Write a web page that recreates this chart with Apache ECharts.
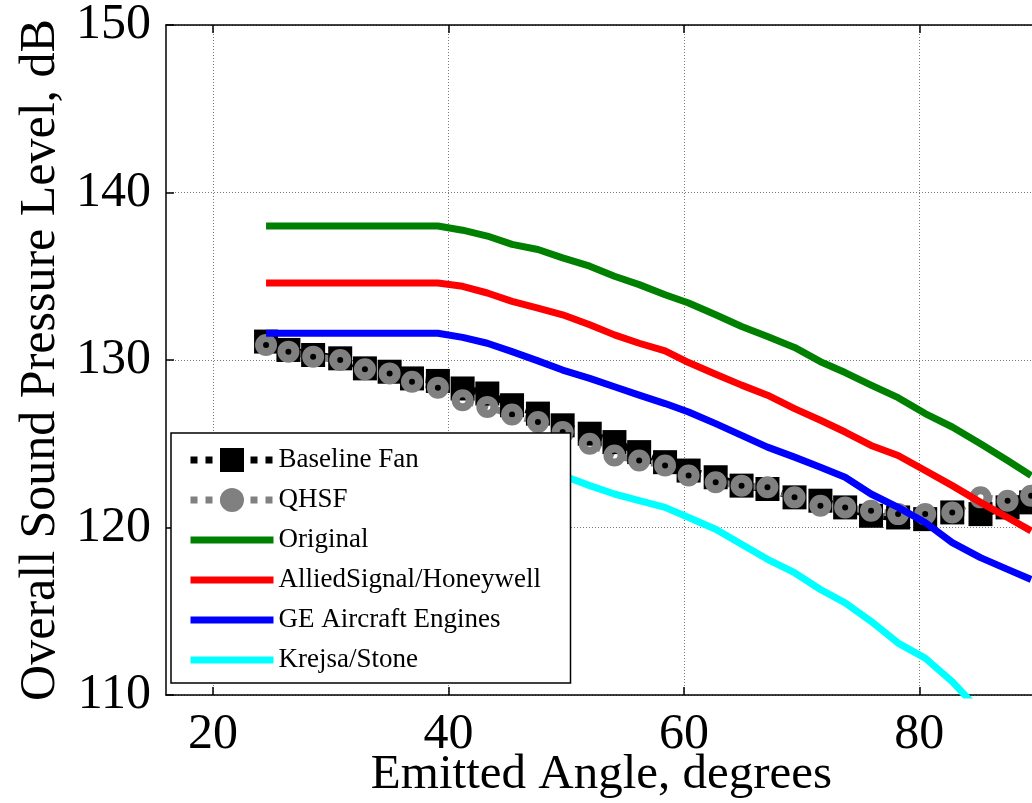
<!DOCTYPE html>
<html>
<head>
<meta charset="utf-8">
<script src="https://cdn.jsdelivr.net/npm/echarts@6/dist/echarts.min.js"></script>
<style>
  html, body { margin: 0; padding: 0; background: #fff; }
  #chart { width: 1032px; height: 803px; }
</style>
</head>
<body>
<div id="chart"></div>
<script>
// Emitted angle (degrees) at which each level is given
const angles = [24.5, 26.4, 28.5, 30.8, 32.9, 35.0, 36.9, 39.1, 41.2, 43.3, 45.4, 47.6, 49.7, 52.0, 54.1, 56.2,
                58.4, 60.4, 62.7, 64.9, 67.1, 69.4, 71.6, 73.7, 75.9, 78.2, 80.5, 82.8, 85.2, 87.5, 89.5];

// Overall sound pressure level, dB
const baselineFan = [131.1, 130.6, 130.3, 130.1, 129.5, 129.3, 128.9, 128.75, 128.3, 128.0, 127.3, 126.8, 126.1, 125.6, 125.1, 124.5,
                     123.9, 123.4, 123.0, 122.5, 122.3, 121.8, 121.6, 121.2, 120.7, 120.6, 120.5, 120.9, 120.8, 121.2, 121.5];
const qhsf = [130.9, 130.5, 130.2, 130.0, 129.45, 129.2, 128.7, 128.35, 127.6, 127.2, 126.75, 126.3, 125.7, 125.0, 124.3, 124.0,
              123.7, 123.1, 122.7, 122.5, 122.4, 121.8, 121.3, 121.2, 121.0, 120.8, 120.8, 120.9, 121.8, 121.6, 121.9];
const original = [138.0, 138.0, 138.0, 138.0, 138.0, 138.0, 138.0, 138.0, 137.75, 137.4, 136.9, 136.6, 136.1, 135.6, 135.0, 134.5,
                  133.9, 133.4, 132.7, 132.0, 131.4, 130.75, 129.9, 129.25, 128.5, 127.75, 126.8, 126.0, 125.0, 124.0, 123.1];
const alliedSignal = [134.6, 134.6, 134.6, 134.6, 134.6, 134.6, 134.6, 134.6, 134.4, 134.0, 133.5, 133.1, 132.7, 132.1, 131.5, 131.0,
                      130.55, 129.85, 129.15, 128.5, 127.9, 127.1, 126.4, 125.7, 124.9, 124.3, 123.4, 122.5, 121.5, 120.6, 119.8];
const geAircraft = [131.6, 131.6, 131.6, 131.6, 131.6, 131.6, 131.6, 131.6, 131.35, 131.0, 130.5, 129.95, 129.4, 128.9, 128.4, 127.9,
                    127.4, 126.9, 126.2, 125.5, 124.8, 124.2, 123.6, 123.0, 122.0, 121.2, 120.3, 119.1, 118.2, 117.5, 116.9];
const krejsaStone = [125.3, 125.3, 125.3, 125.3, 125.3, 125.3, 125.3, 125.3, 125.0, 124.6, 124.1, 123.6, 123.1, 122.5, 122.0, 121.6,
                     121.2, 120.6, 119.9, 119.0, 118.1, 117.3, 116.3, 115.5, 114.4, 113.1, 112.2, 110.8, 109.0, 107.5, 106.0];

const xTicks = [20, 40, 60, 80];
const yTicks = [110, 120, 130, 140, 150];

const FONT = '"Liberation Serif", "Times New Roman", Times, serif';

function pairs(values) {
  return angles.map((a, i) => [a, values[i]]);
}

const chart = echarts.init(document.getElementById('chart'), null, { renderer: 'canvas' });

const axisLineStyle = { color: '#000', width: 1.5 };
const gridLineStyle = { color: '#7a7a7a', width: 1, type: [1, 2] };

function modelLine(name, values, color) {
  return {
    name: name,
    type: 'line',
    data: pairs(values),
    z: 3,
    symbol: 'none',
    showSymbol: false,
    lineStyle: { color: color, width: 7, join: 'round' },
    itemStyle: { color: color },
    emphasis: { disabled: true }
  };
}

function legendLine(name, color) {
  return {
    name: name,
    itemStyle: { opacity: 0 },
    lineStyle: { color: color, width: 7, type: 'solid' }
  };
}

chart.setOption({
  animation: false,
  backgroundColor: '#fff',
  grid: { left: 166, right: -5, top: 25, bottom: 108, containLabel: false, outerBoundsMode: 'none' },
  legend: {
    orient: 'vertical',
    left: 171,
    top: 433,
    padding: [12, 22, 8, 16],
    itemWidth: 83,
    itemHeight: 30,
    itemGap: 10,
    backgroundColor: '#fff',
    borderColor: '#000',
    borderWidth: 1.5,
    borderRadius: 0,
    selectedMode: false,
    textStyle: { fontFamily: FONT, fontSize: 27, color: '#000', width: 270, lineHeight: 30 },
    data: [
      { name: 'Baseline Fan', lineStyle: { color: '#000', width: 7, type: [7, 8] } },
      { name: 'QHSF', itemStyle: { color: '#808080', borderWidth: 0 }, lineStyle: { color: '#808080', width: 7, type: [7, 8] } },
      legendLine('Original', '#008000'),
      legendLine('AlliedSignal/Honeywell', '#ff0000'),
      legendLine('GE Aircraft Engines', '#0000ff'),
      legendLine('Krejsa/Stone', '#00ffff')
    ]
  },
  xAxis: [{
    type: 'value',
    min: 16,
    max: 90,
    splitNumber: 4,
    name: 'Emitted Angle, degrees',
    nameLocation: 'middle',
    nameGap: 56,
    nameMoveOverlap: false,
    nameTextStyle: { fontFamily: FONT, fontSize: 49, color: '#000' },
    axisLine: { show: true, onZero: false, lineStyle: axisLineStyle },
    axisTick: { show: true, inside: true, length: 8, customValues: xTicks, lineStyle: axisLineStyle },
    axisLabel: { customValues: xTicks, margin: 15, fontFamily: FONT, fontSize: 50, color: '#000' },
    splitLine: { show: true, lineStyle: gridLineStyle }
  }, {
    type: 'value',
    position: 'top',
    min: 16,
    max: 90,
    splitNumber: 4,
    axisLine: { show: true, onZero: false, lineStyle: axisLineStyle },
    axisTick: { show: true, inside: true, length: 8, customValues: xTicks, lineStyle: axisLineStyle },
    axisLabel: { show: false },
    splitLine: { show: false }
  }],
  yAxis: {
    type: 'value',
    min: 110,
    max: 150,
    interval: 10,
    name: 'Overall Sound Pressure Level, dB',
    nameLocation: 'middle',
    nameRotate: 90,
    nameGap: 100,
    nameMoveOverlap: false,
    nameTextStyle: { fontFamily: FONT, fontSize: 50, color: '#000' },
    axisLine: { show: true, onZero: false, lineStyle: axisLineStyle },
    axisTick: { show: true, inside: true, length: 8, lineStyle: axisLineStyle },
    axisLabel: { margin: 15, fontFamily: FONT, fontSize: 50, color: '#000' },
    splitLine: { show: true, lineStyle: gridLineStyle }
  },
  series: [
    {
      name: 'Baseline Fan',
      type: 'line',
      data: pairs(baselineFan),
      z: 2,
      symbol: 'rect',
      symbolSize: 24,
      showAllSymbol: true,
      lineStyle: { color: '#000', width: 7, type: [7, 8] },
      itemStyle: { color: '#000' },
      emphasis: { disabled: true }
    },
    {
      name: 'QHSF',
      type: 'line',
      data: pairs(qhsf),
      z: 2,
      symbol: 'circle',
      symbolSize: 14,
      showAllSymbol: true,
      lineStyle: { color: '#808080', width: 7, type: [7, 8] },
      itemStyle: { color: 'rgba(0,0,0,0)', borderColor: '#808080', borderWidth: 8 },
      emphasis: { disabled: true }
    },
    modelLine('Original', original, '#008000'),
    modelLine('AlliedSignal/Honeywell', alliedSignal, '#ff0000'),
    modelLine('GE Aircraft Engines', geAircraft, '#0000ff'),
    modelLine('Krejsa/Stone', krejsaStone, '#00ffff')
  ]
});
</script>
</body>
</html>
